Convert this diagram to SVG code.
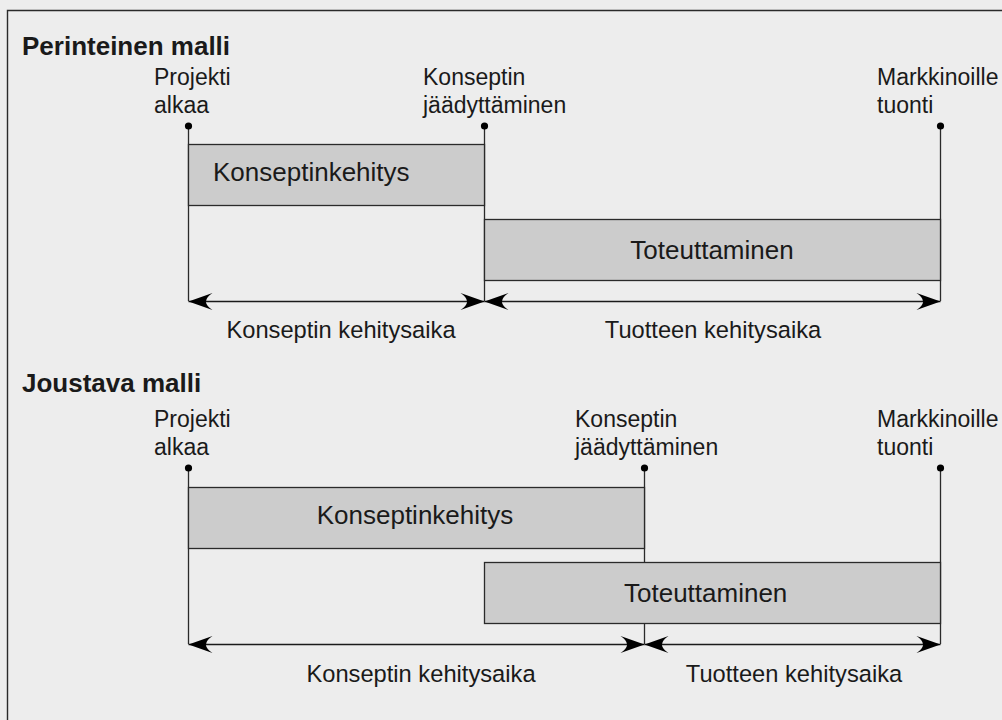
<svg xmlns="http://www.w3.org/2000/svg" width="1002" height="720" viewBox="0 0 1002 720">
  <style>
    text { font-family: "Liberation Sans", Arial, sans-serif; fill: #1a1a1a; }
    .title { font-size: 26px; font-weight: bold; }
    .label { font-size: 23px; }
    .bar-text { font-size: 26px; }
    .span-text { font-size: 23.7px; text-anchor: middle; }
    .bar { fill: #cccccc; stroke: #2a2a2a; stroke-width: 1.3; }
    .stem { stroke: #2a2a2a; stroke-width: 1.3; fill: none; }
    .span { stroke: #1a1a1a; stroke-width: 1.3; fill: none; marker-start: url(#head-start); marker-end: url(#head-end); }
    .dot { fill: #000; }
  </style>
  <defs>
    <marker id="head-end" markerUnits="userSpaceOnUse" viewBox="-26 -10 27 20" refX="0" refY="0" markerWidth="27" markerHeight="20" orient="auto">
      <path d="M0,0 L-24,-8.5 Q-11,0 -24,8.5 Z" fill="#000"/>
    </marker>
    <marker id="head-start" markerUnits="userSpaceOnUse" viewBox="-1 -10 27 20" refX="0" refY="0" markerWidth="27" markerHeight="20" orient="auto">
      <path d="M0,0 L24,-8.5 Q11,0 24,8.5 Z" fill="#000"/>
    </marker>
  </defs>

  <rect x="0" y="0" width="1002" height="720" fill="#ededed"/>
  <!-- frame, open to the right and bottom -->
  <path d="M7.5,730 V10.5 H1010" fill="none" stroke="#2a2a2a" stroke-width="1.4"/>

  <!-- connectors: milestone stems and duration arrows (drawn beneath the bars) -->
  <g id="connectors">
    <line class="stem" x1="188.5" y1="126" x2="188.5" y2="301"/>
    <line class="stem" x1="484.5" y1="126" x2="484.5" y2="301"/>
    <line class="stem" x1="940.5" y1="126" x2="940.5" y2="301"/>
    <line class="span" x1="188.5" y1="301.5" x2="484.5" y2="301.5"/>
    <line class="span" x1="484.5" y1="301.5" x2="940.5" y2="301.5"/>

    <line class="stem" x1="188.5" y1="468" x2="188.5" y2="644"/>
    <line class="stem" x1="644.5" y1="468" x2="644.5" y2="644"/>
    <line class="stem" x1="940.5" y1="468" x2="940.5" y2="644"/>
    <line class="span" x1="188.5" y1="644.5" x2="644.5" y2="644.5"/>
    <line class="span" x1="644.5" y1="644.5" x2="940.5" y2="644.5"/>
  </g>

  <!-- Section 1: traditional model -->
  <g id="title-traditional"><text class="title" x="22" y="55">Perinteinen malli</text></g>

  <g id="milestone-start-1">
    <text class="label" x="154" y="85">Projekti</text>
    <text class="label" x="154" y="113">alkaa</text>
    <circle class="dot" cx="188.5" cy="126" r="3.6"/>
  </g>
  <g id="milestone-freeze-1">
    <text class="label" x="423" y="85">Konseptin</text>
    <text class="label" x="423" y="113">jäädyttäminen</text>
    <circle class="dot" cx="484.5" cy="126" r="3.6"/>
  </g>
  <g id="milestone-launch-1">
    <text class="label" x="877" y="85">Markkinoille</text>
    <text class="label" x="877" y="113">tuonti</text>
    <circle class="dot" cx="940.5" cy="126" r="3.6"/>
  </g>

  <g id="bar-concept-1">
    <rect class="bar" x="188.5" y="144.5" width="296" height="61"/>
    <text class="bar-text" x="213" y="181">Konseptinkehitys</text>
  </g>
  <g id="bar-build-1">
    <rect class="bar" x="484.5" y="219.5" width="456" height="61"/>
    <text class="bar-text" x="712" y="259" text-anchor="middle">Toteuttaminen</text>
  </g>

  <g id="span-labels-1">
    <text class="span-text" x="341" y="338">Konseptin kehitysaika</text>
    <text class="span-text" x="713" y="338">Tuotteen kehitysaika</text>
  </g>

  <!-- Section 2: flexible model -->
  <g id="title-flexible"><text class="title" x="22" y="392">Joustava malli</text></g>

  <g id="milestone-start-2">
    <text class="label" x="154" y="427">Projekti</text>
    <text class="label" x="154" y="455">alkaa</text>
    <circle class="dot" cx="188.5" cy="468" r="3.6"/>
  </g>
  <g id="milestone-freeze-2">
    <text class="label" x="575" y="427">Konseptin</text>
    <text class="label" x="575" y="455">jäädyttäminen</text>
    <circle class="dot" cx="644.5" cy="468" r="3.6"/>
  </g>
  <g id="milestone-launch-2">
    <text class="label" x="877" y="427">Markkinoille</text>
    <text class="label" x="877" y="455">tuonti</text>
    <circle class="dot" cx="940.5" cy="468" r="3.6"/>
  </g>

  <g id="bar-concept-2">
    <rect class="bar" x="188.5" y="487.5" width="456" height="61"/>
    <text class="bar-text" x="415" y="524" text-anchor="middle">Konseptinkehitys</text>
  </g>
  <g id="bar-build-2">
    <rect class="bar" x="484.5" y="562.5" width="456" height="61"/>
    <text class="bar-text" x="624" y="602">Toteuttaminen</text>
  </g>

  <g id="span-labels-2">
    <text class="span-text" x="421" y="682">Konseptin kehitysaika</text>
    <text class="span-text" x="794" y="682">Tuotteen kehitysaika</text>
  </g>
</svg>
